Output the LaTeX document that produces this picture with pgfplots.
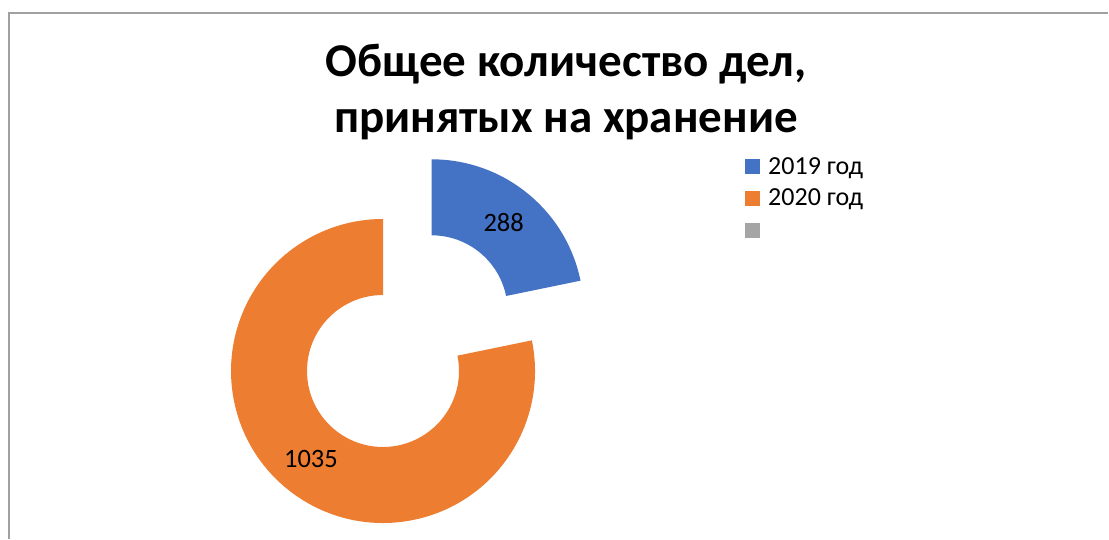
\documentclass[border=0pt]{standalone}
\usepackage{pgfplots}
\pgfplotsset{compat=1.18}
\usepackage{pgfplotstable}
\usepackage{fontspec}
\setmainfont{Carlito}
\usetikzlibrary{calc}
\definecolor{c19}{HTML}{4472C4}
\definecolor{c20}{HTML}{ED7D31}
\definecolor{c3}{HTML}{A5A5A5}
\definecolor{framec}{HTML}{A0A0A0}
\pgfplotstableread{
label value
2019 288
2020 1035
}\datatable
\begin{document}
\begin{tikzpicture}
\pgfplotstablegetelem{0}{value}\of\datatable \edef\va{\pgfplotsretval}
\pgfplotstablegetelem{1}{value}\of\datatable \edef\vb{\pgfplotsretval}
\pgfmathsetmacro\tot{\va+\vb}
\pgfmathsetmacro\frac{\va/\tot}
\pgfmathsetmacro\angA{360*\frac}
\pgfmathsetmacro\endA{90-\angA}
\pgfmathsetmacro\midA{90-\angA/2}
\pgfmathsetmacro\midB{\endA-(360-\angA)/2}
\pgfmathsetmacro\bx{383+77*cos(\midA)}
\pgfmathsetmacro\by{168+77*sin(\midA)}
\begin{axis}[
  width=1109pt, height=539pt, scale only axis,
  xmin=0, xmax=1109, ymin=0, ymax=539,
  enlargelimits=false, hide axis, clip=false,
  at={(0,0)}, anchor=south west]
\path (axis cs:0,0) rectangle (axis cs:1109,539);
% frame
\draw[framec, line width=1.5pt] (axis cs:9,0) -- (axis cs:9,526) -- (axis cs:1108,526);
% orange segment
\fill[c20] ($(axis cs:383,168)+(\endA:152pt)$) arc[start angle=\endA, end angle=-270, radius=152pt]
   -- ($(axis cs:383,168)+(-270:76pt)$) arc[start angle=-270, end angle=\endA, radius=76pt] -- cycle;
% blue segment (exploded)
\fill[c19] ($(axis cs:\bx,\by)+(90:152pt)$) arc[start angle=90, end angle=\endA, radius=152pt]
   -- ($(axis cs:\bx,\by)+(\endA:76pt)$) arc[start angle=\endA, end angle=90, radius=76pt] -- cycle;
% data labels
\node[font=\fontsize{26.5}{30}\selectfont] at ($(axis cs:\bx,\by)+(\midA:114pt)$) {\va};
\node[font=\fontsize{26.5}{30}\selectfont] at ($(axis cs:383,168)+(\midB:114pt)$) {\vb};
% title
\node[anchor=base, font=\fontsize{47}{54}\selectfont\bfseries] at (axis cs:566,462) {Общее количество дел,};
\node[anchor=base, font=\fontsize{47}{54}\selectfont\bfseries] at (axis cs:566,406) {принятых на хранение};
% legend
\fill[c19] (axis cs:745,365) rectangle (axis cs:760,380);
\fill[c20] (axis cs:745,333) rectangle (axis cs:760,348);
\fill[c3] (axis cs:745,301) rectangle (axis cs:760,316);
\node[anchor=base west, inner sep=0pt, font=\fontsize{26}{30}\selectfont] at (axis cs:768,364) {2019 год};
\node[anchor=base west, inner sep=0pt, font=\fontsize{26}{30}\selectfont] at (axis cs:768,333) {2020 год};
\end{axis}
\end{tikzpicture}
\end{document}
